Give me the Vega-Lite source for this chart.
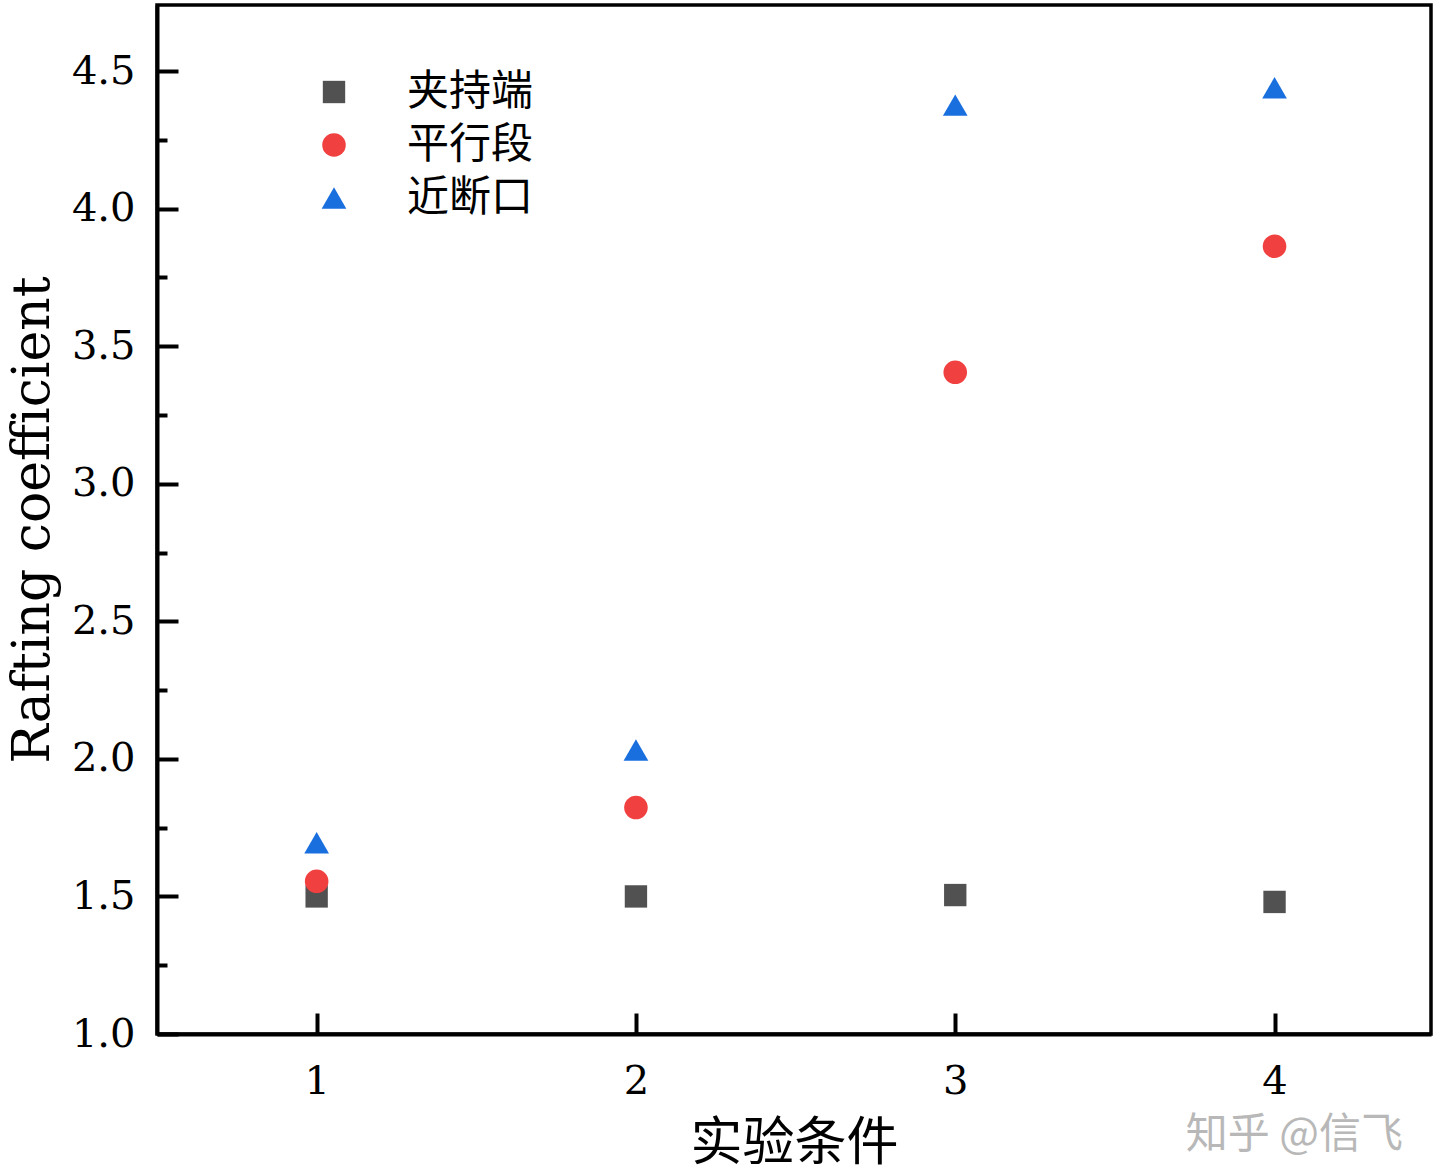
{
  "$schema": "https://vega.github.io/schema/vega-lite/v6.json",
  "width": 1274,
  "height": 1029,
  "autosize": {"type": "none"},
  "padding": {"left": 157, "top": 5, "right": 9, "bottom": 142},
  "background": "white",
  "config": {
    "view": {"stroke": "black", "strokeWidth": 3.5},
    "axis": {"domainColor": "black", "domainWidth": 4, "tickColor": "black", "tickWidth": 4, "grid": false, "labelColor": "black", "titleColor": "black"}
  },
  "title": {"text": "知乎 @信飞", "orient": "bottom", "anchor": "end", "font": "Noto Sans CJK SC", "fontSize": 42, "fontWeight": "normal", "color": "#b8b8b8", "dx": -28, "dy": -58},
  "data": {"values": [
    {"cond": 1, "value": 1.50, "series": "夹持端"},
    {"cond": 2, "value": 1.50, "series": "夹持端"},
    {"cond": 3, "value": 1.505, "series": "夹持端"},
    {"cond": 4, "value": 1.48, "series": "夹持端"},
    {"cond": 1, "value": 1.555, "series": "平行段"},
    {"cond": 2, "value": 1.823, "series": "平行段"},
    {"cond": 3, "value": 3.405, "series": "平行段"},
    {"cond": 4, "value": 3.863, "series": "平行段"},
    {"cond": 1, "value": 1.695, "series": "近断口"},
    {"cond": 2, "value": 2.032, "series": "近断口"},
    {"cond": 3, "value": 4.376, "series": "近断口"},
    {"cond": 4, "value": 4.439, "series": "近断口"}
  ]},
  "resolve": {"axis": {"y": "independent"}},
  "layer": [
    {
      "mark": {"type": "point", "filled": true, "opacity": 1, "strokeWidth": 0},
      "encoding": {
        "x": {"field": "cond", "type": "quantitative",
          "scale": {"domain": [0.5, 4.49], "nice": false, "zero": false},
          "axis": {"title": "实验条件", "values": [1, 2, 3, 4], "format": "d", "tickSize": -21,
            "labelFont": "DejaVu Serif", "labelFontSize": 40, "labelPadding": 48,
            "titleFont": "Noto Sans CJK SC", "titleFontSize": 52, "titleFontWeight": "normal", "titlePadding": 17}},
        "y": {"field": "value", "type": "quantitative",
          "scale": {"domain": [1, 4.74], "nice": false, "zero": false},
          "axis": {"orient": "left", "title": "Rafting coefficient", "values": [1, 1.5, 2, 2.5, 3, 3.5, 4, 4.5], "format": ".1f", "tickSize": -21,
            "labelFont": "DejaVu Serif", "labelFontSize": 40, "labelPadding": 43,
            "titleFont": "DejaVu Serif", "titleFontSize": 52, "titleFontWeight": "normal", "titlePadding": 12}},
        "color": {"field": "series", "type": "nominal",
          "scale": {"domain": ["夹持端", "平行段", "近断口"], "range": ["#515151", "#F14040", "#1A6FDF"]},
          "legend": {"title": null, "orient": "none", "legendX": 156, "legendY": 66, "padding": 0,
            "labelFont": "Noto Sans CJK SC", "labelFontSize": 42, "labelColor": "black", "labelOffset": 52,
            "rowPadding": 11, "symbolStrokeWidth": 0, "symbolOpacity": 1}},
        "shape": {"field": "series", "type": "nominal",
          "scale": {"domain": ["夹持端", "平行段", "近断口"], "range": ["square", "circle", "triangle-up"]}},
        "size": {"field": "series", "type": "nominal",
          "scale": {"domain": ["夹持端", "平行段", "近断口"], "range": [500, 610, 870]}}
      }
    },
    {
      "mark": {"type": "point", "opacity": 0},
      "encoding": {
        "y": {"field": "value", "type": "quantitative",
          "scale": {"domain": [1, 4.74], "nice": false, "zero": false},
          "axis": {"orient": "left", "title": null, "values": [1.25, 1.75, 2.25, 2.75, 3.25, 3.75, 4.25], "tickSize": -10, "labels": false, "domain": false}}
      }
    }
  ]
}
